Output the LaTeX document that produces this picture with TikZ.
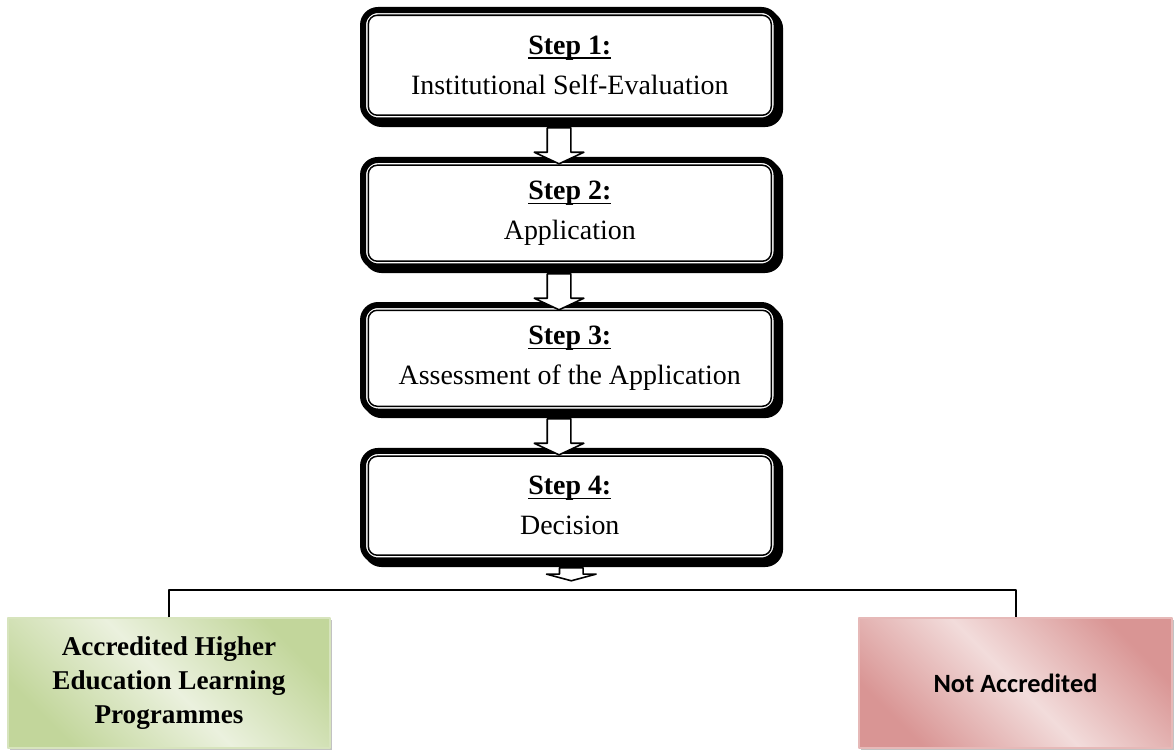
\documentclass[tikz,border=0pt]{standalone}
\usepackage{fontspec}
\setmainfont{Liberation Serif}
\newfontfamily\notfont{Carlito}
\usetikzlibrary{shapes.arrows,shadows}
\definecolor{greenlight}{HTML}{EBF1DE}
\definecolor{greendark}{HTML}{C2D69B}
\definecolor{greenedge}{HTML}{D7E4BD}
\definecolor{redlight}{HTML}{F2DCDB}
\definecolor{reddark}{HTML}{D99594}
\definecolor{rededge}{HTML}{E6B9B8}
\newcommand{\steptitle}[1]{\textbf{\underline{\raisebox{0pt}[\height][0pt]{#1}}}}
\begin{document}
\begin{tikzpicture}[line join=round]
	\tikzset{stepbox/.style={draw,fill=white,line width=2.28pt,rounded corners=0.2cm,minimum width=5.513cm,align=center,font=\fontsize{10.6}{15.2}\selectfont,drop shadow={shadow xshift=0.047cm,shadow yshift=-0.047cm,opacity=1,fill=black,draw=black,line width=2.28pt}},
		innerline/.style={line width=0.57pt,rounded corners=0.12cm},
		blockarrow/.style={single arrow,draw,fill=white,line width=0.6pt,shape border rotate=270,inner xsep=0.147cm,inner ysep=0pt,single arrow head extend=0.173cm,single arrow tip angle=130,anchor=tail},
		resultbox/.style={line width=0.6pt,minimum height=1.733cm,align=center,drop shadow={shadow xshift=0.03cm,shadow yshift=-0.03cm,opacity=0.6,fill=black!40}}}
	\useasboundingbox (0,0) rectangle (15.653,-10.013);
	\node[stepbox,minimum height=1.473cm] (s1) at (7.597,-0.87) {\steptitle{Step 1:}\\Institutional Self-Evaluation};
	\node[stepbox,minimum height=1.42cm] (s2) at (7.597,-2.843) {\steptitle{Step 2:}\\Application};
	\node[stepbox,minimum height=1.42cm] (s3) at (7.597,-4.777) {\steptitle{Step 3:}\\Assessment of the Application};
	\node[stepbox,minimum height=1.46cm] (s4) at (7.597,-6.743) {\steptitle{Step 4:}\\Decision};
	\foreach \n in {s1,s2,s3,s4}
	\draw[innerline] ([shift={(0.11,-0.11)}]\n.north west) rectangle ([shift={(-0.11,0.11)}]\n.south east);
	\node[blockarrow,minimum height=0.48cm] (a1) at ([xshift=-0.143cm,yshift=-0.047cm]s1.south) {};
	\node[blockarrow,minimum height=0.48cm] (a2) at ([xshift=-0.143cm,yshift=-0.047cm]s2.south) {};
	\node[blockarrow,minimum height=0.48cm] (a3) at ([xshift=-0.143cm,yshift=-0.047cm]s3.south) {};
	\node[blockarrow,minimum height=0.173cm,single arrow tip angle=150] (a4) at ([xshift=0.02cm,yshift=-0.047cm]s4.south) {};
	\node[resultbox,draw=greenedge,minimum width=4.293cm,top color=greendark,bottom color=greendark,middle color=greenlight,shading angle=-45,font=\bfseries\fontsize{10.3}{12.9}\selectfont] (acc) at (2.253,-9.107) {Accredited Higher\\Education Learning\\Programmes};
	\node[resultbox,draw=rededge,minimum width=4.173cm,top color=reddark,bottom color=reddark,middle color=redlight,shading angle=-45,font=\notfont\bfseries\fontsize{10}{12}\selectfont] (notacc) at (13.54,-9.107) {Not Accredited};
	\coordinate (fork) at (7.6,-7.867);
	\draw[line width=0.75pt] (acc.north) |- (fork) -| (notacc.north);
\end{tikzpicture}
\end{document}
